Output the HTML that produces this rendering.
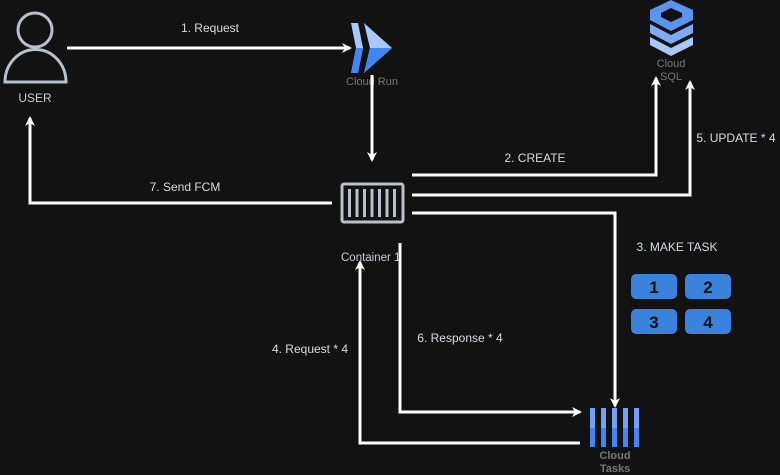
<!DOCTYPE html>
<html><head><meta charset="utf-8"><style>
html,body{margin:0;padding:0;background:#121212;}
svg{display:block;font-family:"Liberation Sans",sans-serif;}
</style></head><body>
<svg width="780" height="475" viewBox="0 0 780 475" xmlns="http://www.w3.org/2000/svg">
<defs>
<marker id="a" markerWidth="10" markerHeight="10" refX="8" refY="5" orient="auto" markerUnits="userSpaceOnUse">
<path d="M0,0 L10,5 L0,10 L3,5 Z" fill="#fff"/></marker>
</defs>
<rect width="780" height="475" fill="#121212"/>
<!-- user -->
<circle cx="35" cy="30" r="17" fill="none" stroke="#b8c0cc" stroke-width="3"/>
<path d="M5,82 A30,32 0 0 1 66,82 Z" fill="none" stroke="#b8c0cc" stroke-width="3"/>
<text x="35" y="102" fill="#c8cdd4" font-size="12" text-anchor="middle">USER</text>
<!-- cloud run -->
<polygon points="351,23 358,23 363,48 358,73 351,73 356,48" fill="#a8c7fa"/>
<polygon points="351,48 356,48 351,73 358,73 363,48" fill="#4285f4"/>
<polygon points="364,23 392,48 364,73 370,48" fill="#a8c7fa"/>
<polygon points="370,48 392,48 364,73" fill="#4285f4"/>
<text x="372" y="85" fill="#777" font-size="11" text-anchor="middle">Cloud Run</text>
<!-- cloud sql -->
<g>
<polygon points="650,10 671,0 693,10 693,20 671,31 650,20" fill="#5b93f0"/>
<polygon points="661,13 671,8 682,13 682,17 671,22 661,17" fill="#121212"/>
<polygon points="650,24 671,35 693,24 693,33 671,44 650,33" fill="#7eaaf5"/>
<polygon points="650,37 671,48 693,37 693,45 671,56 650,45" fill="#a8c7fa"/>
</g>
<text x="671" y="67" fill="#777" font-size="11" text-anchor="middle">Cloud</text>
<text x="671" y="80" fill="#777" font-size="11" text-anchor="middle">SQL</text>
<!-- container -->
<rect x="342" y="184" width="61" height="38" rx="2" fill="none" stroke="#b8c0cc" stroke-width="3"/>
<g fill="#b8c0cc">
<rect x="348" y="189" width="3" height="28"/><rect x="355.5" y="189" width="3" height="28"/><rect x="363" y="189" width="3" height="28"/><rect x="370.5" y="189" width="3" height="28"/><rect x="378" y="189" width="3" height="28"/><rect x="385.5" y="189" width="3" height="28"/><rect x="393" y="189" width="3" height="28"/>
</g>
<text x="341" y="261" fill="#c8cdd4" font-size="11.5">Container 1</text>
<!-- cloud tasks -->
<g>
<rect x="590" y="408" width="5" height="39" fill="#4285f4"/>
<rect x="601" y="408" width="5" height="39" fill="#4285f4"/>
<rect x="612" y="408" width="5" height="39" fill="#4285f4"/>
<rect x="623" y="408" width="5" height="39" fill="#4285f4"/>
<rect x="634" y="408" width="5" height="39" fill="#4285f4"/>
<g fill="#6fa3f7">
<rect x="590" y="408" width="5" height="20"/><rect x="601" y="408" width="5" height="20"/><rect x="612" y="408" width="5" height="20"/><rect x="623" y="408" width="5" height="20"/><rect x="634" y="408" width="5" height="20"/>
</g>
</g>
<text x="615" y="459" fill="#777" font-size="11" text-anchor="middle" font-weight="bold">Cloud</text>
<text x="615" y="472" fill="#777" font-size="11" text-anchor="middle" font-weight="bold">Tasks</text>
<!-- tiles -->
<g font-size="17" font-weight="bold" fill="#111" text-anchor="middle">
<rect x="631" y="274" width="46" height="25" rx="5" fill="#3b82dc"/><text x="654" y="293">1</text>
<rect x="685" y="274" width="46" height="25" rx="5" fill="#3b82dc"/><text x="708" y="293">2</text>
<rect x="631" y="309" width="46" height="25" rx="5" fill="#3b82dc"/><text x="654" y="328">3</text>
<rect x="685" y="309" width="46" height="25" rx="5" fill="#3b82dc"/><text x="708" y="328">4</text>
</g>
<!-- arrows -->
<g stroke="#fff" stroke-width="3" fill="none">
<path d="M67,48 L350,48" marker-end="url(#a)"/>
<path d="M372,75 L372,160" marker-end="url(#a)"/>
<path d="M412,175 L656,175 L656,78" marker-end="url(#a)"/>
<path d="M412,195 L690,195 L690,82" marker-end="url(#a)"/>
<path d="M412,213 L615,213 L615,406" marker-end="url(#a)"/>
<path d="M400,243 L400,412 L580,412" marker-end="url(#a)"/>
<path d="M580,443 L360,443 L360,262" marker-end="url(#a)"/>
<path d="M332,203 L30,203 L30,118" marker-end="url(#a)"/>
</g>
<g fill="#d8dce2" font-size="12">
<text x="210" y="32" text-anchor="middle">1. Request</text>
<text x="535" y="162" text-anchor="middle">2. CREATE</text>
<text x="736" y="142" text-anchor="middle">5. UPDATE * 4</text>
<text x="677" y="251" text-anchor="middle">3. MAKE TASK</text>
<text x="185" y="191" text-anchor="middle">7. Send FCM</text>
<text x="310" y="353" text-anchor="middle">4. Request * 4</text>
<text x="460" y="342" text-anchor="middle">6. Response * 4</text>
</g>
</svg>
</body></html>
